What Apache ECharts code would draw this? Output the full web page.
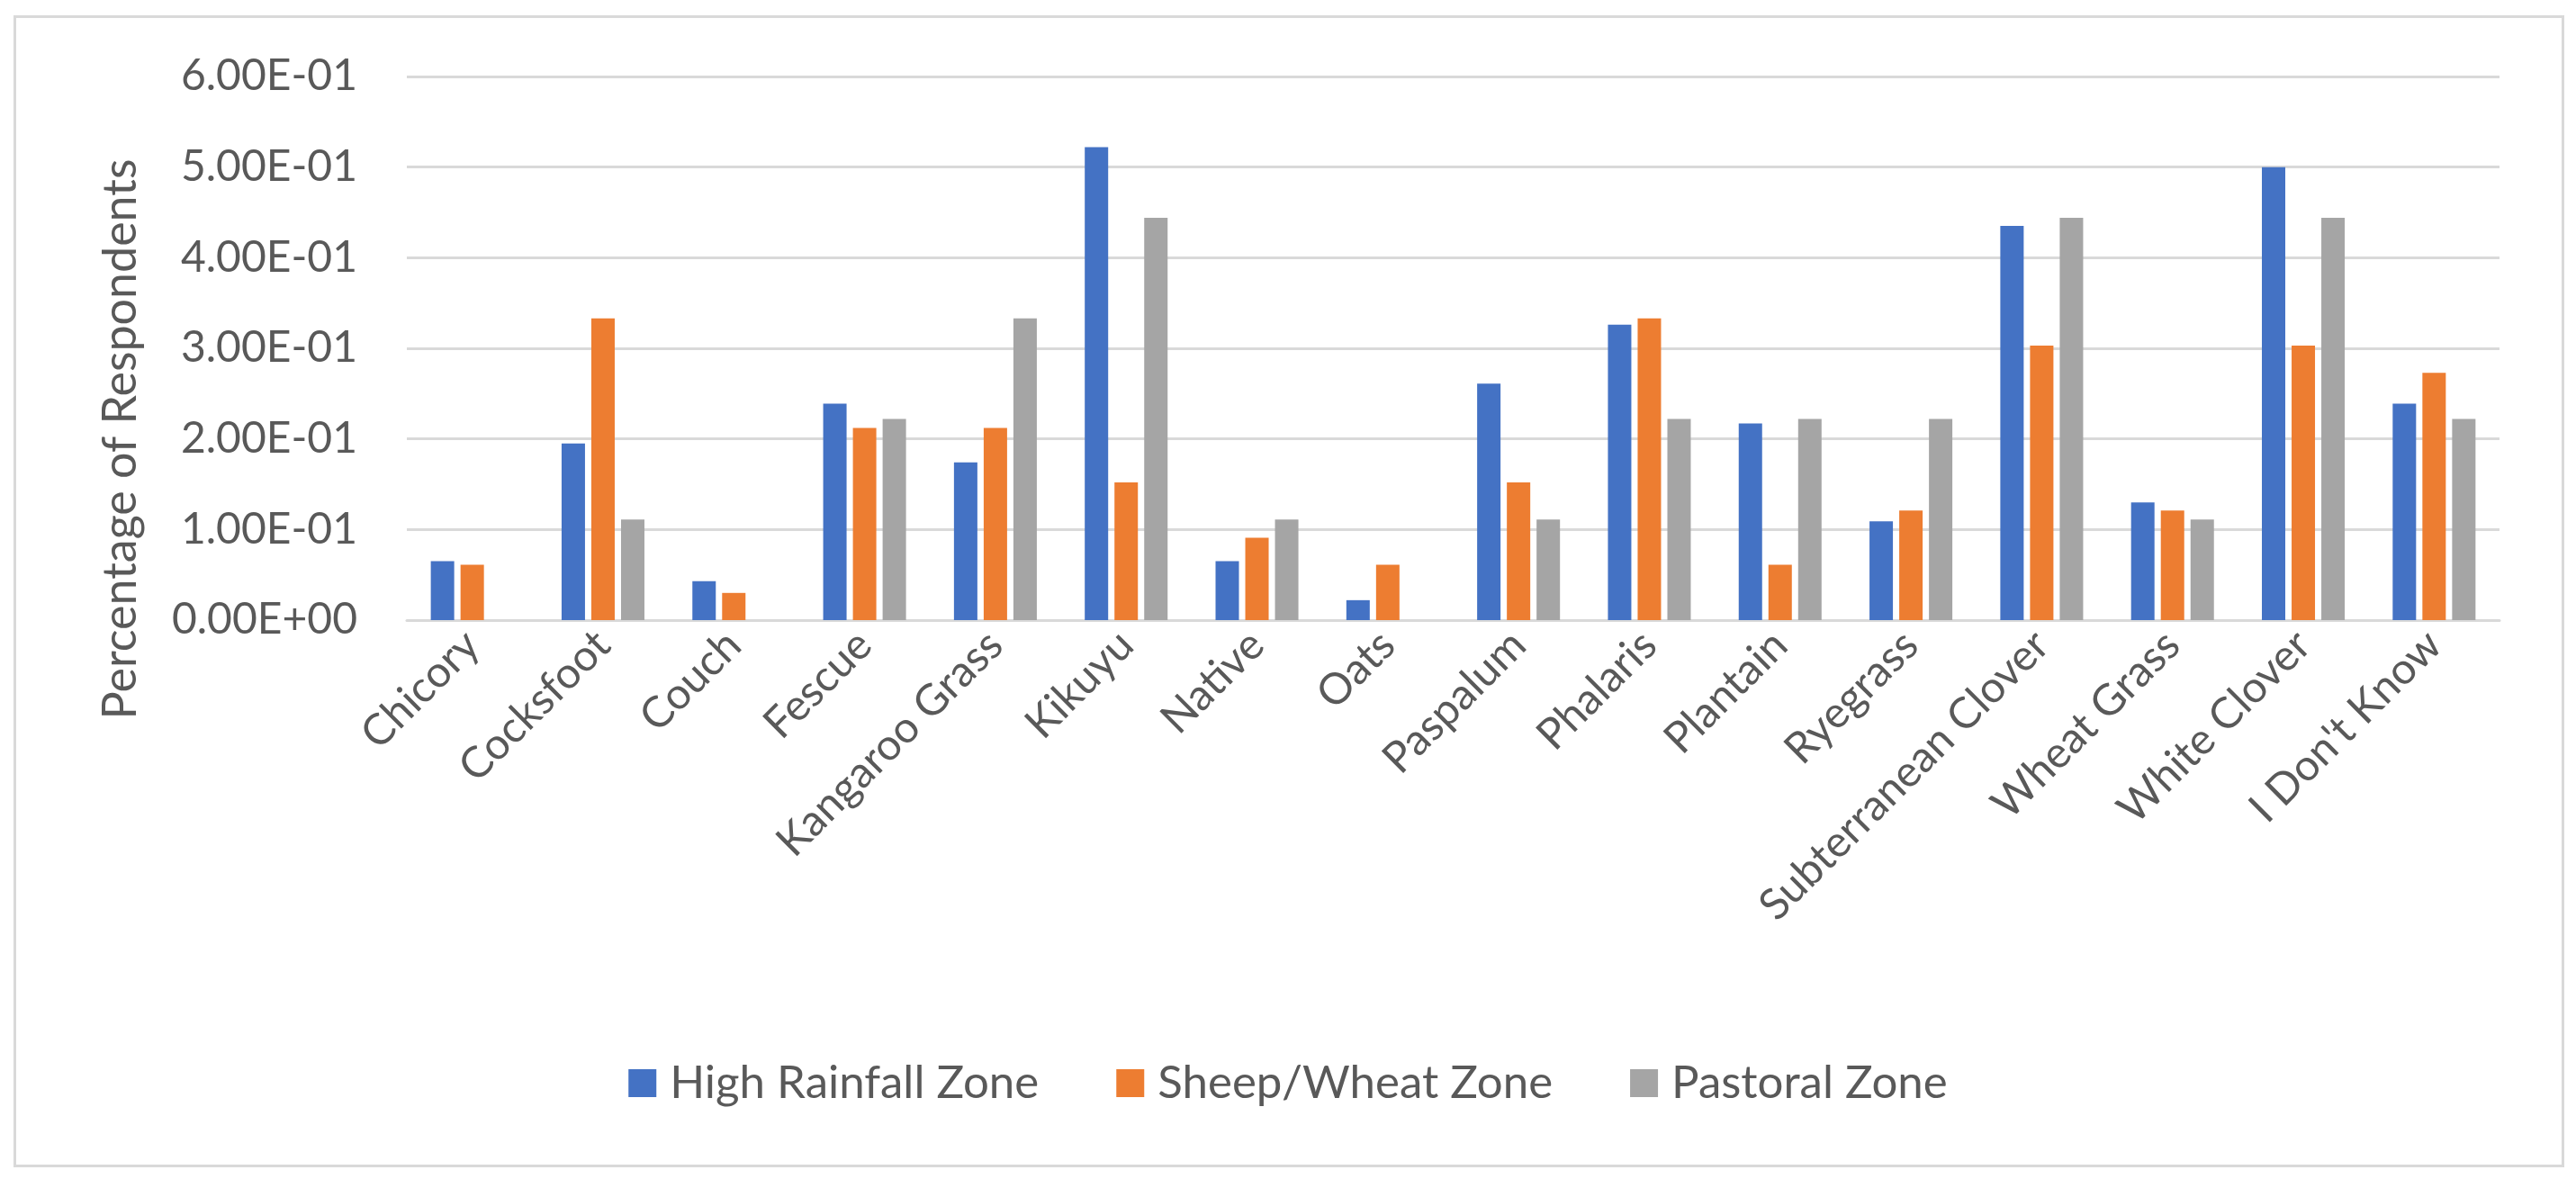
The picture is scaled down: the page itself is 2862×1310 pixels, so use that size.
<!DOCTYPE html>
<html>
<head>
<meta charset="utf-8">
<script src="https://cdn.jsdelivr.net/npm/echarts@6/dist/echarts.min.js"></script>
<style>
html,body{margin:0;padding:0;background:#fff;}
#chart{width:2862px;height:1310px;}
</style>
</head>
<body>
<div id="chart"></div>
<script>
var categories = ["Chicory","Cocksfoot","Couch","Fescue","Kangaroo Grass","Kikuyu","Native","Oats","Paspalum","Phalaris","Plantain","Ryegrass","Subterranean Clover","Wheat Grass","White Clover","I Don't Know"];
var highRainfall = [0.065,0.195,0.043,0.239,0.174,0.522,0.065,0.022,0.261,0.326,0.217,0.109,0.435,0.130,0.500,0.239];
var sheepWheat  = [0.061,0.333,0.030,0.212,0.212,0.152,0.091,0.061,0.152,0.333,0.061,0.121,0.303,0.121,0.303,0.273];
var pastoral    = [0,0.111,0,0.222,0.333,0.444,0.111,0,0.111,0.222,0.222,0.222,0.444,0.111,0.444,0.222];
var seriesNames = ["High Rainfall Zone","Sheep/Wheat Zone","Pastoral Zone"];
var colors = ["#4472C4","#ED7D31","#A5A5A5"];
var yTitle = "Percentage of Respondents";

function sci(v){
  var s = Number(v).toExponential(2);
  var parts = s.split('e');
  var exp = parseInt(parts[1],10);
  var sign = exp < 0 ? '-' : '+';
  var a = Math.abs(exp);
  return parts[0] + 'E' + sign + (a < 10 ? '0' + a : '' + a);
}

var FONT = 'Lato';
var TXT = '#595959';
var chart = echarts.init(document.getElementById('chart'));
var dataSets = [highRainfall, sheepWheat, pastoral];
var series = seriesNames.map(function(n,i){
  return {
    name: n, type: 'bar', data: dataSets[i],
    barWidth: 26, barGap: '27%',
    itemStyle: {color: colors[i]},
    animation: false
  };
});

chart.setOption({
  animation: false,
  backgroundColor: '#fff',
  textStyle: {fontFamily: FONT},
  color: colors,
  grid: {left: 452, right: 85, top: 85, bottom: 621, containLabel: false},
  legend: {
    data: seriesNames, bottom: 76, left: 'center',
    icon: 'rect', itemWidth: 31, itemHeight: 31, itemGap: 86,
    textStyle: {fontSize: 51, color: TXT, fontFamily: FONT, padding: [0,0,0,10]}
  },
  xAxis: {
    type: 'category', data: categories,
    axisLine: {lineStyle: {color: '#D9D9D9', width: 3}},
    axisTick: {show: false},
    axisLabel: {interval: 0, rotate: 45, margin: 20, fontSize: 48, color: TXT, fontFamily: FONT}
  },
  yAxis: {
    type: 'value', min: 0, max: 0.6, interval: 0.1,
    axisLine: {show: false}, axisTick: {show: false},
    splitLine: {lineStyle: {color: '#D9D9D9', width: 3}},
    axisLabel: {formatter: sci, fontSize: 48, color: TXT, margin: 55, fontFamily: FONT}
  },
  graphic: [
    {type: 'rect', left: 14, top: 16, shape: {x:0,y:0,width: 2831, height: 1277},
     style: {fill: 'none', stroke: '#D9D9D9', lineWidth: 3}, silent: true},
    {type: 'text', x: 134, y: 488, rotation: Math.PI/2,
     style: {text: yTitle, fontSize: 52, fill: TXT, fontFamily: FONT, align: 'center', verticalAlign: 'middle'}}
  ],
  series: series
});
</script>
</body>
</html>
